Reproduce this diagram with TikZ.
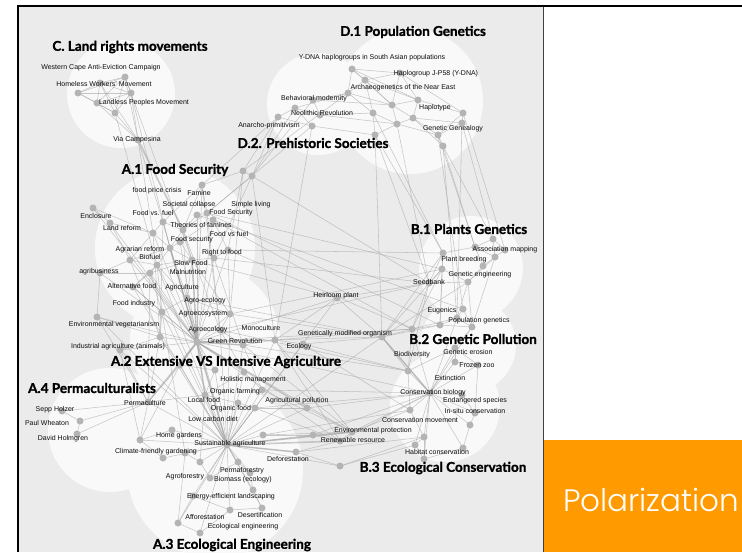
\documentclass[tikz,border=0pt]{standalone}
\usepackage{fontspec}
\setmainfont{Liberation Sans}
\newfontfamily\titlefont{Lato}[BoldFeatures={FakeBold=1.3}]
\newfontfamily\polfont{Poppins}[UprightFont=* Light]
\definecolor{panel}{HTML}{EBEBEB}
\definecolor{blob}{HTML}{F9F9F9}
\definecolor{dotgrey}{HTML}{B4B4B4}
\definecolor{edgegrey}{HTML}{A4A4A4}
\definecolor{polorange}{HTML}{FF9A00}
\pgfdeclarelayer{bg}
\pgfdeclarelayer{edges}
\pgfsetlayers{bg,edges,main}
\tikzset{
  dot/.style={circle,fill=dotgrey,draw=none,inner sep=0pt,minimum size=7pt},
  lbl/.style={inner sep=0pt,text=black!95,font=\fontsize{7}{8}\selectfont},
  ttl/.style={inner sep=0pt,text=black,font=\titlefont\bfseries\fontsize{13.5}{15}\selectfont},
  edge/.style={draw=edgegrey,line width=0.55pt,opacity=0.6},
  thick edge/.style={draw=edgegrey,line width=1.6pt,opacity=0.55},
}
\begin{document}
\begin{tikzpicture}[x=1pt,y=-1pt]
\useasboundingbox (0,0) rectangle (742,552);

% ---------- frame, panel and cluster blobs ----------
\begin{pgfonlayer}{bg}
\fill[white] (0,0) rectangle (742,552);
\fill[panel] (18,6) rectangle (543,552);
\fill[polorange] (543,440) rectangle (742,552);
\draw[black!75,line width=0.8pt] (543,6) -- (543,552);
\draw[black,line width=2.2pt] (742,6) -- (18,6) -- (18,552);
\foreach \cx/\cy/\r in {121/94/54, 410/101/73, 318/104/51, 175/248/80,
    205/340/75, 110/430/62, 215/470/88, 471/268/52, 468/345/48, 445/407/55}
  \fill[blob] (\cx,\cy) circle[radius=\r pt];
\end{pgfonlayer}

% ---------- C. Land rights movements ----------
\node[dot] (c1) at (78,93) {};
\node[dot] (c2) at (100,83) {};
\node[dot] (c3) at (125,77) {};
\node[dot] (c4) at (131,93) {};
\node[dot] (c5) at (97,103) {};
\node[dot] (c6) at (115,113) {};
\node[dot] (c7) at (138,140) {};

% ---------- D.1 Population Genetics ----------
\node[dot] (d1) at (352,69) {};
\node[dot] (d2) at (365,80) {};
\node[dot] (d3) at (348,93) {};
\node[dot] (d4) at (392,105) {};
\node[dot] (d5) at (418,100) {};
\node[dot] (d6) at (413,118) {};
\node[dot] (d7) at (397,124) {};
\node[dot] (d8) at (373,113) {};
\node[dot] (d9) at (375,135) {};
\node[dot] (d10) at (463,113) {};
\node[dot] (d11) at (462,123) {};
\node[dot] (d12) at (438,135) {};
\node[dot] (d13) at (443,146) {};
\node[dot] (d14) at (400,73) {};

% ---------- D.2 Prehistoric Societies ----------
\node[dot] (p1) at (295,108) {};
\node[dot] (p2) at (278,117) {};
\node[dot] (p3) at (312,126) {};
\node[dot] (p4) at (320,115) {};
\node[dot] (p5) at (313,100) {};

% ---------- A.1 Food Security ----------
\node[dot] (a1) at (243,171) {};
\node[dot] (a2) at (252,176) {};
\node[dot] (a3) at (202,185) {};
\node[dot] (a4) at (93,208) {};
\node[dot] (a5) at (110,223) {};
\node[dot] (a6) at (163,222) {};
\node[dot] (a7) at (207,213) {};
\node[dot] (a8) at (183,230) {};
\node[dot] (a9) at (153,233) {};
\node[dot] (a10) at (170,248) {};
\node[dot] (a11) at (130,260) {};
\node[dot] (a12) at (157,265) {};
\node[dot] (a13) at (192,260) {};
\node[dot] (a14) at (214,258) {};
\node[dot] (a15) at (100,273) {};
\node[dot] (a16) at (150,273) {};
\node[dot] (a17) at (133,287) {};
\node[dot] (a18) at (180,242) {};
\node[dot] (a19) at (197,215) {};
\node[dot] (a21) at (213,220) {};
\node[dot] (a22) at (228,250) {};

% ---------- A.2 Extensive VS Intensive Agriculture ----------
\node[dot] (b1) at (162,312) {};
\node[dot] (b2) at (97,317) {};
\node[dot] (b3) at (187,298) {};
\node[dot] (b4) at (197,342) {};
\node[dot] (b5) at (160,337) {};
\node[dot] (b6) at (120,350) {};
\node[dot] (b7) at (230,314) {};
\node[dot] (b8) at (220,330) {};
\node[dot] (b9) at (243,345) {};
\node[dot] (b10) at (275,340) {};
\node[dot] (b11) at (303,344) {};
\node[dot] (b12) at (382,337) {};
\node[dot] (b13) at (337,298) {};
\node[dot] (b15) at (244,372) {};
\node[dot] (b16) at (205,395) {};
\node[dot] (b17) at (238,403) {};
\node[dot] (b18) at (255,408) {};
\node[dot] (b19) at (307,408) {};
\node[dot] (b20) at (180,365) {};
\node[dot] (b21) at (215,370) {};
\node[dot] (b22) at (262,390) {};

% ---------- A.4 Permaculturalists ----------
\node[dot] (e1) at (148,402) {};
\node[dot] (e2) at (80,421) {};
\node[dot] (e3) at (77,434) {};
\node[dot] (e4) at (62,411) {};
\node[dot] (e5) at (140,440) {};
\node[dot] (e6) at (172,430) {};
\node[dot] (e7) at (163,458) {};

% ---------- A.3 Ecological Engineering ----------
\node[dot] (f1) at (227,445) {};
\node[dot] (f2) at (263,435) {};
\node[dot] (f3) at (313,435) {};
\node[dot] (f4) at (185,453) {};
\node[dot] (f5) at (200,462) {};
\node[dot] (f6) at (210,478) {};
\node[dot] (f7) at (238,462) {};
\node[dot] (f8) at (250,473) {};
\node[dot] (f9) at (253,490) {};
\node[dot] (f10) at (193,496) {};
\node[dot] (f11) at (178,523) {};
\node[dot] (f12) at (200,533) {};
\node[dot] (f13) at (296,452) {};
\node[dot] (f14) at (340,466) {};
\node[dot] (f15) at (262,508) {};
\node[dot] (f16) at (230,510) {};

% ---------- B.1 Plants Genetics ----------
\node[dot] (g1) at (493,239) {};
\node[dot] (g2) at (475,247) {};
\node[dot] (g3) at (505,250) {};
\node[dot] (g4) at (495,257) {};
\node[dot] (g5) at (443,253) {};
\node[dot] (g6) at (442,269) {};
\node[dot] (g7) at (468,282) {};
\node[dot] (g8) at (429,283) {};
\node[dot] (g9) at (483,266) {};

% ---------- B.2 Genetic Pollution ----------
\node[dot] (h1) at (412,329) {};
\node[dot] (h2) at (440,325) {};
\node[dot] (h3) at (457,318) {};
\node[dot] (h4) at (463,309) {};
\node[dot] (h5) at (472,327) {};
\node[dot] (h6) at (455,348) {};
\node[dot] (h7) at (478,365) {};
\node[dot] (h8) at (455,362) {};
\node[dot] (h9) at (408,371) {};

% ---------- B.3 Ecological Conservation ----------
\node[dot] (i1) at (430,393) {};
\node[dot] (i2) at (410,410) {};
\node[dot] (i3) at (462,395) {};
\node[dot] (i4) at (475,413) {};
\node[dot] (i5) at (470,425) {};
\node[dot] (i6) at (424,437) {};
\node[dot] (i7) at (415,445) {};
\node[dot] (i8) at (463,448) {};
\node[dot] (i9) at (424,459) {};
\node[dot] (i10) at (352,432) {};
\node[dot] (i11) at (340,441) {};

% ---------- connectors ----------
\begin{pgfonlayer}{edges}
\foreach \u/\v in {
  c1/c2,c1/c3,c1/c4,c1/c5,c1/c6,c2/c3,c2/c4,c2/c5,c2/c6,c3/c4,c3/c5,c3/c6,
  c4/c5,c4/c6,c5/c6,c7/c3,c7/c4,c7/c6,c7/c5,c7/c2,
  c7/a9,c7/a6,c4/a10,c3/a13,c6/a12,
  d1/d2,d1/d3,d1/d4,d1/d5,d1/d14,d2/d3,d2/d4,d2/d5,d2/d8,d3/d4,d3/d8,d4/d5,
  d4/d6,d4/d7,d5/d6,d5/d10,d5/d14,d6/d7,d6/d11,d6/d12,d7/d8,d7/d9,d8/d9,
  d10/d11,d11/d12,d12/d13,d6/d13,d14/d4,d14/d10,d7/d12,d2/d14,d10/d12,
  p1/p2,p1/p3,p1/p4,p2/p3,p4/p5,p1/d3,p4/d8,p4/d7,p3/d9,p5/d3,p5/d4,
  d9/g5,d13/g1,d12/h4,d13/g2,d7/g8,d9/b12,p3/b10,p2/a1,p2/a2,d11/h3,p1/a2,p3/a7,
  d12/g2,d11/g1,d10/g3,d9/g8,d13/h3,d8/g5,p2/a3,p5/a2,d3/a1,
  a1/a2,a1/a3,a2/a7,a3/a7,a3/a6,a3/a8,a6/a8,a6/a9,a7/a8,a7/a19,a8/a10,a8/a13,
  a9/a10,a9/a11,a10/a11,a10/a12,a10/a13,a11/a12,a12/a13,a13/a14,a14/a22,
  a4/a5,a4/a9,a5/a9,a5/a11,a15/a16,a15/a11,a16/a17,a16/a12,a17/a12,a19/a21,
  a21/a22,a8/a19,a6/a10,a13/a16,a18/a10,a18/a13,a18/a21,a2/a14,a1/a22,
  a10/b4,a12/b4,a13/b4,a16/b4,a17/b1,a11/b5,a15/b2,a9/b4,a8/b8,a13/b7,a14/b9,
  a22/b7,a6/b5,a18/b4,a16/b1,a12/b3,a13/b3,a10/b3,a3/b4,a7/b8,
  a4/b4,a5/b4,a9/b5,a11/b4,a17/b4,a15/b4,a6/b4,a19/b4,a21/b4,a14/b4,a22/b4,
  a3/b8,a8/b3,a12/b1,a2/b10,a1/b7,
  b1/b3,b1/b4,b1/b5,b2/b5,b2/b4,b3/b4,b3/b7,b4/b5,b4/b6,b4/b7,b4/b8,b4/b9,
  b4/b10,b5/b6,b7/b8,b8/b9,b9/b10,b10/b11,b11/b12,b12/b13,b4/b12,b4/b13,
  b4/b15,b4/b16,b4/b20,b4/b21,b20/b21,b15/b22,b16/b17,b17/b18,b18/b19,
  b15/b16,b21/b16,b8/b15,b9/b22,b5/b20,
  b20/f1,b21/f1,b16/f1,b17/f1,b18/f1,b15/f1,b22/f1,b5/f1,b6/f1,b8/f1,b9/f1,
  b19/f1,b1/f4,b2/f1,b16/f5,b20/e5,
  b1/f1,b3/f1,b7/f1,b10/f1,b13/f1,b12/f1,b11/f1,b6/e5,b2/e1,b6/e1,
  a16/f1,a17/f1,a12/f1,a10/f1,
  e1/e2,e1/e3,e1/e4,e2/e3,e2/e4,e1/e5,e1/f1,e1/b20,e1/b16,e1/a16,e5/f1,
  e6/f1,e7/f1,e5/e6,e7/e5,e1/b5,
  f1/f2,f1/f3,f1/f4,f1/f5,f1/f6,f1/f7,f1/f8,f1/f9,f1/f10,f1/f11,f1/f12,f1/f13,
  f1/f14,f1/f15,f1/f16,f6/f7,f7/f8,f8/f9,f9/f15,f10/f11,f11/f12,f12/f16,
  f16/f15,f4/f5,f5/f6,f2/f3,f13/f14,f10/f16,f4/f11,
  f3/i10,f3/i11,f1/i10,f14/i7,f14/i6,f13/i11,f3/i1,f2/i2,
  b19/i10,b19/i1,b12/h9,b12/i1,b11/i2,b10/i10,b4/i11,b9/h9,b22/i10,b18/i11,
  b4/i1,b4/i10,b8/h9,b7/b12,b3/b12,a13/b13,a22/g5,a2/g8,a7/g6,a21/h4,
  b10/i11,b9/i10,b22/i1,f2/i10,f13/i6,b18/i1,
  b12/g5,b12/g6,b12/g7,b12/h1,b12/h2,b13/g8,b7/g6,b8/g8,b10/h1,b4/h1,b11/h9,
  b13/b10,a7/h2,a22/h1,a21/h1,a14/g8,
  g1/g2,g1/g3,g1/g4,g2/g3,g2/g5,g2/g4,g3/g4,g5/g6,g6/g7,g4/g7,g5/g8,g6/g8,
  g9/g4,g9/g2,g7/g9,g8/g7,
  g8/h1,g6/h2,g7/h3,g7/h5,g4/h5,g8/h9,g6/h1,g5/h2,
  h1/h2,h2/h3,h3/h4,h4/h5,h3/h5,h2/h5,h1/h9,h5/h6,h6/h7,h6/h8,h8/h7,h9/h6,
  h1/h3,h9/i1,h8/i1,h7/i1,h6/i1,h5/i1,h3/i1,h9/i2,h1/i1,h7/i4,
  i1/i2,i1/i3,i1/i4,i1/i5,i1/i6,i1/i7,i1/i8,i1/i9,i1/i10,i1/i11,i3/i4,i4/i5,
  i5/i8,i6/i7,i7/i9,i8/i9,i2/i10,i10/i11,i6/i9,i2/i6}
  \draw[edge] (\u.center) -- (\v.center);
\foreach \u/\v in {c7/a8,e1/b4,b4/f1,f1/i11,b4/b19,a10/b4,b4/b9,f1/f13,
  b4/b20,a13/b4,b4/b16,f1/i10,b12/i1}
  \draw[thick edge] (\u.center) -- (\v.center);
\end{pgfonlayer}

% ---------- cluster titles ----------
\node[ttl] (tC) at (130,47) {C. Land rights movements};
\node[ttl] (tD1) at (413,32) {D.1 Population Genetics};
\node[ttl] (tD2) at (313,143) {D.2. Prehistoric Societies};
\node[ttl] (tA1) at (175,170) {A.1 Food Security};
\node[ttl] (tA2) at (226,362) {A.2 Extensive VS Intensive Agriculture};
\node[ttl] (tA4) at (92,388) {A.4 Permaculturalists};
\node[ttl] (tA3) at (232,545) {A.3 Ecological Engineering};
\node[ttl] (tB1) at (469,229) {B.1 Plants Genetics};
\node[ttl] (tB2) at (473,339) {B.2 Genetic Pollution};
\node[ttl] (tB3) at (443,468) {B.3 Ecological Conservation};

% ---------- article labels ----------
\node[lbl] (l1) at (101,68) {Western Cape Anti-Eviction Campaign};
\node[lbl] (l2) at (104,84) {Homeless Workers' Movement};
\node[lbl] (l3) at (144,103) {Landless Peoples Movement};
\node[lbl] (l4) at (137,140) {Via Campesina};
\node[lbl] (l5) at (372,58) {Y-DNA haplogroups in South Asian populations};
\node[lbl] (l6) at (436,74) {Haplogroup J-P58 (Y-DNA)};
\node[lbl] (l7) at (403,88) {Archaeogenetics of the Near East};
\node[lbl] (l8) at (435,108) {Haplotype};
\node[lbl] (l9) at (453,129) {Genetic Genealogy};
\node[lbl] (l10) at (314,99) {Behavioral modernity};
\node[lbl] (l11) at (322,113) {Neolithic Revolution};
\node[lbl] (l12) at (269,126) {Anarcho-primitivism};
\node[lbl] (l13) at (157,191) {food price crisis};
\node[lbl] (l14) at (199,193) {Famine};
\node[lbl] (l15) at (189,205) {Societal collapse};
\node[lbl] (l16) at (251,205) {Simple living};
\node[lbl] (l17) at (96,216) {Enclosure};
\node[lbl] (l18) at (153,213) {Food vs. fuel};
\node[lbl] (l19) at (231,213) {Food Security};
\node[lbl] (l20) at (201,225) {Theories of famines};
\node[lbl] (l21) at (122,228) {Land reform};
\node[lbl] (l22) at (229,234) {Food vs fuel};
\node[lbl] (l23) at (192,240) {Food security};
\node[lbl] (l24) at (140,250) {Agrarian reform};
\node[lbl] (l25) at (150,257) {Biofuel};
\node[lbl] (l26) at (222,253) {Right to food};
\node[lbl] (l27) at (191,263) {Slow Food};
\node[lbl] (l28) at (99,272) {agribusiness};
\node[lbl] (l29) at (188,272) {Malnutrition};
\node[lbl] (l30) at (132,286) {Alternative food};
\node[lbl] (l31) at (182,288) {Agriculture};
\node[lbl] (l32) at (205,301) {Agro-ecology};
\node[lbl] (l33) at (134,304) {Food industry};
\node[lbl] (l34) at (203,314) {Agroecosystem};
\node[lbl] (l35) at (114,325) {Environmental vegetarianism};
\node[lbl] (l36) at (208,330) {Agroecology};
\node[lbl] (l37) at (261,328) {Monoculture};
\node[lbl] (l38) at (235,341) {Green Revolution};
\node[lbl] (l39) at (118,347) {Industrial agriculture (animals)};
\node[lbl] (l40) at (345,334) {Genetically modified organism};
\node[lbl] (l41) at (299,347) {Ecology};
\node[lbl] (l42) at (336,296) {Heirloom plant};
\node[lbl] (l43) at (253,380) {Holistic management};
\node[lbl] (l44) at (235,392) {Organic farming};
\node[lbl] (l45) at (204,400) {Local food};
\node[lbl] (l46) at (297,401) {Agricultural pollution};
\node[lbl] (l47) at (231,409) {Organic food};
\node[lbl] (l48) at (213,419) {Low carbon diet};
\node[lbl] (l49) at (145,403) {Permaculture};
\node[lbl] (l50) at (55,410) {Sepp Holzer};
\node[lbl] (l51) at (47,423) {Paul Wheaton};
\node[lbl] (l52) at (63,439) {David Holmgren};
\node[lbl] (l53) at (179,436) {Home gardens};
\node[lbl] (l54) at (156,452) {Climate-friendly gardening};
\node[lbl] (l55) at (230,444) {Sustainable agriculture};
\node[lbl] (l56) at (288,459) {Deforestation};
\node[lbl] (l57) at (242,471) {Permaforestry};
\node[lbl] (l58) at (185,477) {Agroforestry};
\node[lbl] (l59) at (243,480) {Biomass (ecology)};
\node[lbl] (l60) at (231,497) {Energy-efficient landscaping};
\node[lbl] (l61) at (205,517) {Afforestation};
\node[lbl] (l62) at (260,515) {Desertification};
\node[lbl] (l63) at (243,527) {Ecological engineering};
\node[lbl] (l64) at (505,250) {Association mapping};
\node[lbl] (l65) at (464,260) {Plant breeding};
\node[lbl] (l66) at (480,275) {Genetic engineering};
\node[lbl] (l67) at (429,282) {Seedbank};
\node[lbl] (l68) at (442,311) {Eugenics};
\node[lbl] (l69) at (479,321) {Population genetics};
\node[lbl] (l70) at (468,352) {Genetic erosion};
\node[lbl] (l71) at (412,355) {Biodiversity};
\node[lbl] (l72) at (477,365) {Frozen zoo};
\node[lbl] (l73) at (450,378) {Extinction};
\node[lbl] (l74) at (433,393) {Conservation biology};
\node[lbl] (l75) at (475,401) {Endangered species};
\node[lbl] (l76) at (475,411) {In-situ conservation};
\node[lbl] (l77) at (420,420) {Conservation movement};
\node[lbl] (l78) at (373,431) {Environmental protection};
\node[lbl] (l79) at (353,440) {Renewable resource};
\node[lbl] (l80) at (437,452) {Habitat conservation};

% ---------- side panel ----------
\node[text=white,inner sep=0pt,font=\polfont\fontsize{31}{34}\selectfont]
  (pol) at (651,500) {Polarization};
\end{tikzpicture}
\end{document}
